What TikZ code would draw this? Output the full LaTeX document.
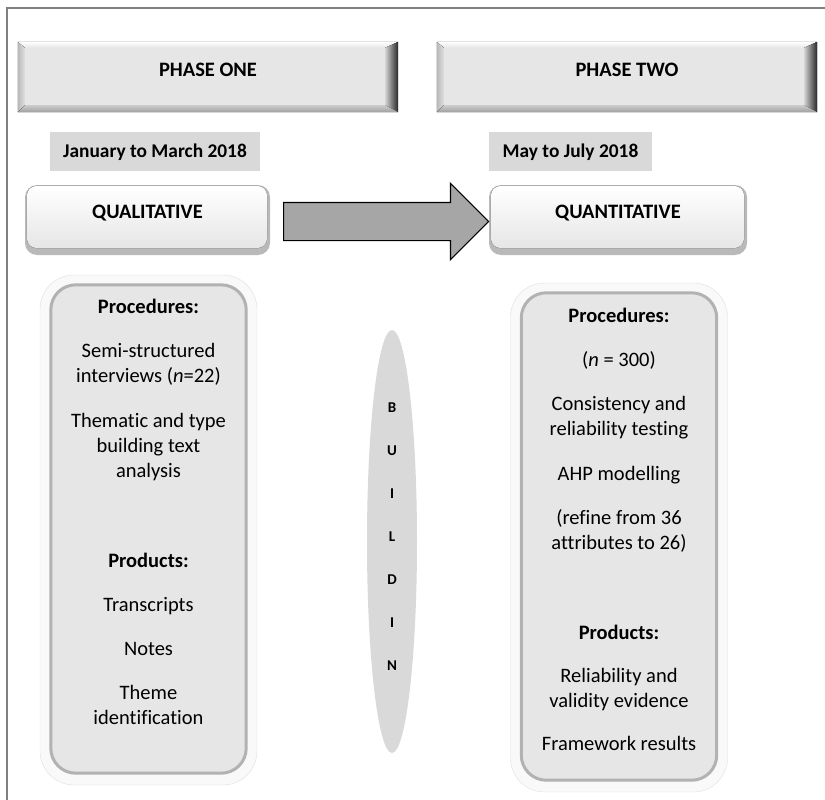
\documentclass[tikz,border=0pt]{standalone}
\usepackage{fontspec}
\setmainfont{Carlito}[Ligatures=NoCommon]
\usepackage{tikz}
\usetikzlibrary{shapes.geometric,shapes.arrows}

\definecolor{boxgray}{HTML}{E6E6E6}
\definecolor{datefill}{HTML}{D9D9D9}
\definecolor{arrowfill}{HTML}{A6A6A6}
\definecolor{framegray}{HTML}{808080}

\tikzset{
  bodytxt/.style={font=\fontsize{20.5}{25}\selectfont, align=center, inner sep=0pt},
  hdtxt/.style={font=\bfseries\fontsize{20.5}{25}\selectfont, inner sep=0pt, text height=13.2pt, text depth=0pt},
  phasebox/.style={fill=boxgray, minimum width=380pt, minimum height=70pt, inner sep=0pt},
  datebox/.style={fill=datefill, minimum height=39pt, inner sep=0pt, font=\bfseries\fontsize{19.4}{24}\selectfont, text height=12.5pt, text depth=0pt},
  methbox/.style={rounded corners=12pt, fill=gray!55, minimum width=245pt, minimum height=70pt, inner sep=0pt},
  procbox/.style={rounded corners=34pt, fill=gray!5, draw=gray!25, minimum width=217pt, minimum height=510pt, inner sep=0pt},
  buildshape/.style={ellipse, fill=datefill, minimum width=50pt, minimum height=423pt, inner sep=0pt},
  lettxt/.style={font=\bfseries\fontsize{15}{18}\selectfont, inner sep=0pt, text height=9.7pt, text depth=0pt},
  bigarrow/.style={single arrow, draw=black, line width=1.2pt, fill=arrowfill, minimum height=205pt, inner xsep=0pt, inner ysep=18.5pt, single arrow head extend=19pt}
}

% bevelled edges of a phase box
\newcommand{\bevel}[1]{%
  \fill[top color=white, bottom color=boxgray] (#1.north west) -- (#1.north east) -- ([xshift=-13pt,yshift=-6pt]#1.north east) -- ([xshift=7pt,yshift=-6pt]#1.north west) -- cycle;
  \fill[left color=gray!55, right color=gray!25] (#1.north west) -- ([xshift=7pt,yshift=-6pt]#1.north west) -- ([xshift=7pt,yshift=7pt]#1.south west) -- (#1.south west) -- cycle;
  \fill[left color=gray!35, right color=black!85] (#1.north east) -- (#1.south east) -- ([xshift=-13pt,yshift=7pt]#1.south east) -- ([xshift=-13pt,yshift=-6pt]#1.north east) -- cycle;
  \fill[top color=gray!40, bottom color=gray!75] (#1.south west) -- ([xshift=7pt,yshift=7pt]#1.south west) -- ([xshift=-13pt,yshift=7pt]#1.south east) -- (#1.south east) -- cycle;
}

% highlight of a method box
\newcommand{\shine}[1]{%
  \fill[rounded corners=10pt, top color=white, middle color=boxgray, bottom color=boxgray] ([xshift=2pt,yshift=-1pt]#1.north west) rectangle ([xshift=-3pt,yshift=7pt]#1.south east);
}

\begin{document}
\begin{tikzpicture}[x=1pt,y=-1pt]
%
\useasboundingbox (0,0) rectangle (825,800);
\draw[framegray, line width=1.5pt] (7,800) -- (7,8) -- (825,8);
%
% phases
\node[phasebox] (ph1) at (208,77) {};
\node[phasebox] (ph2) at (627,77) {};
\bevel{ph1}
\bevel{ph2}
\node[hdtxt, yshift=7.5pt] (ph1t) at (ph1.center) {PHASE ONE};
\node[hdtxt, yshift=7.5pt] (ph2t) at (ph2.center) {PHASE TWO};
%
% dates
\node[datebox, minimum width=210pt] (date1) at (155,151.5) {January to March 2018};
\node[datebox, minimum width=163pt] (date2) at (570.5,151.5) {May to July 2018};
%
% methods
\node[methbox] (qual) at (147.5,220) {};
\node[methbox, minimum width=258pt] (quant) at (618,220) {};
\shine{qual}
\shine{quant}
\node[hdtxt, yshift=8.5pt] (qualt) at (qual.center) {QUALITATIVE};
\node[hdtxt, yshift=8.5pt] (quantt) at (quant.center) {QUANTITATIVE};
%
\node[bigarrow, anchor=tail] (arr) at (283,221.5) {};
%
% procedures and products
\node[procbox] (proc1) at (148.5,530) {};
\node[procbox, minimum height=509pt] (proc2) at (619,537.5) {};
\draw[rounded corners=25pt, draw=gray!60, line width=3pt, fill=boxgray] ([xshift=11pt,yshift=-10pt]proc1.north west) rectangle ([xshift=-11pt,yshift=12pt]proc1.south east);
\draw[rounded corners=25pt, draw=gray!60, line width=3pt, fill=boxgray] ([xshift=11pt,yshift=-10pt]proc2.north west) rectangle ([xshift=-11pt,yshift=12pt]proc2.south east);
%
\node[bodytxt, anchor=north] (proc1t) at (148.5,299) {\textbf{Procedures:}\\[19pt]
  Semi-structured\\ interviews (\textit{n}=22)\\[20pt]
  Thematic and type\\ building text\\ analysis\\[65pt]
  \textbf{Products:}\\[19pt]
  Transcripts\\[19pt]
  Notes\\[19pt]
  Theme\\ identification};
\node[bodytxt, anchor=north] (proc2t) at (619,307.5) {\textbf{Procedures:}\\[19pt]
  (\textit{n} = 300)\\[19pt]
  Consistency and\\ reliability testing\\[20pt]
  AHP modelling\\[19pt]
  (refine from 36\\ attributes to 26)\\[65pt]
  \textbf{Products:}\\[18pt]
  Reliability and\\ validity evidence\\[18pt]
  Framework results};
%
% building
\node[buildshape] (build) at (392,541.5) {};
\foreach \ch [count=\i from 0] in {B,U,I,L,D,I,N}
  \node[lettxt] (b\i) at (392,408+43*\i) {\ch};
%
\end{tikzpicture}
\end{document}
